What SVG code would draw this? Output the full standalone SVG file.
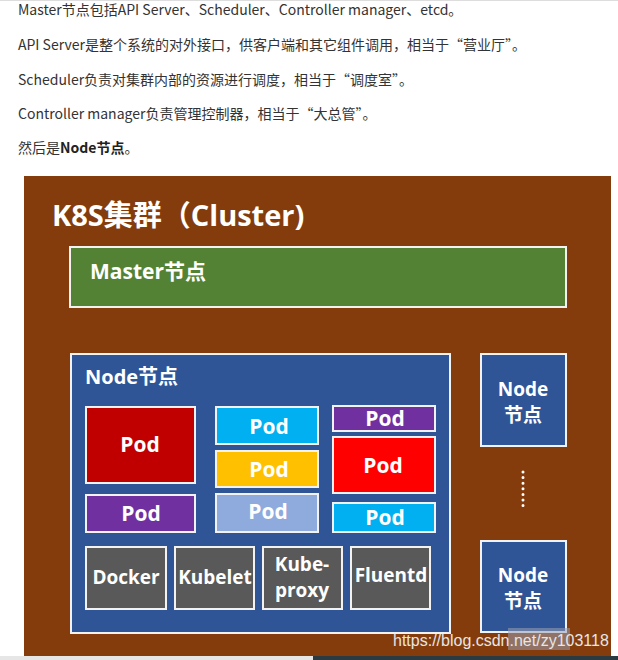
<svg xmlns="http://www.w3.org/2000/svg" width="618" height="660" viewBox="0 0 618 660">
<style>
.p{font-family:"Noto Sans CJK SC","Noto Sans",sans-serif;font-size:14px;fill:#333}
.b{font-family:"Open Sans","Noto Sans CJK SC",sans-serif;font-weight:bold;fill:#fff}
.box{stroke:#f2f2f2;stroke-width:2}
.pod{font-size:21px;text-anchor:middle}
.cmp{font-size:19px;text-anchor:middle}
.nd{font-size:19px;text-anchor:middle}
</style>
<rect width="618" height="660" fill="#fff"/>
<rect x="0" y="0" width="618" height="1" fill="#ddd"/>
<g id="text">
<text class="p" x="18" y="15">Master节点包括API Server、Scheduler、Controller manager、etcd。</text>
<text class="p" x="18" y="50">API Server是整个系统的对外接口，供客户端和其它组件调用，相当于“营业厅”。</text>
<text class="p" x="18" y="85">Scheduler负责对集群内部的资源进行调度，相当于“调度室”。</text>
<text class="p" x="18" y="119">Controller manager负责管理控制器，相当于“大总管”。</text>
<text class="p" x="18" y="153">然后是<tspan font-weight="bold" fill="#222">Node节点</tspan>。</text>
</g>
<g id="cluster">
<rect x="24" y="176" width="587" height="480" fill="#843C0C"/>
<text class="b" x="52" y="226" font-size="29">K8S集群（Cluster)</text>
</g>
<g id="master">
<rect class="box" x="70" y="247" width="496" height="60" fill="#548235" stroke="#fff2cc"/>
<text class="b" x="90" y="279" font-size="21">Master节点</text>
</g>
<g id="node-main">
<rect class="box" x="71" y="354" width="379" height="279" fill="#2F5597"/>
<text class="b" x="85" y="384" font-size="20">Node节点</text>
</g>
<g id="pods" class="b">
<g id="pod1"><rect class="box" x="86" y="407" width="109" height="76" fill="#C00000"/><text class="pod" x="140" y="452">Pod</text></g>
<g id="pod2"><rect class="box" x="86" y="495" width="109" height="37" fill="#7030A0"/><text class="pod" x="141" y="521">Pod</text></g>
<g id="pod3"><rect class="box" x="216" y="407" width="102" height="37" fill="#00B0F0"/><text class="pod" x="269" y="434">Pod</text></g>
<g id="pod4"><rect class="box" x="216" y="451" width="102" height="36" fill="#FFC000"/><text class="pod" x="269" y="477">Pod</text></g>
<g id="pod5"><rect class="box" x="216" y="494" width="102" height="38" fill="#8FAADC"/><text class="pod" x="268" y="519">Pod</text></g>
<g id="pod6"><rect class="box" x="333" y="406" width="102" height="25" fill="#7030A0"/><text class="pod" x="385" y="426">Pod</text></g>
<g id="pod7"><rect class="box" x="333" y="437" width="102" height="56" fill="#FF0000"/><text class="pod" x="383" y="473">Pod</text></g>
<g id="pod8"><rect class="box" x="333" y="503" width="102" height="29" fill="#00B0F0"/><text class="pod" x="385" y="525">Pod</text></g>
</g>
<g id="components" class="b">
<g id="docker"><rect class="box" x="86" y="547" width="80" height="62" fill="#595959"/><text class="cmp" x="126" y="584">Docker</text></g>
<g id="kubelet"><rect class="box" x="175" y="547" width="79" height="62" fill="#595959"/><text class="cmp" x="215" y="584">Kubelet</text></g>
<g id="kube-proxy"><rect class="box" x="263" y="547" width="79" height="62" fill="#595959"/><text class="cmp" x="302" y="571" font-size="18">Kube-</text><text class="cmp" x="302" y="597" font-size="18">proxy</text></g>
<g id="fluentd"><rect class="box" x="351" y="547" width="79" height="62" fill="#595959"/><text class="cmp" x="391" y="582">Fluentd</text></g>
</g>
<g id="node2" class="b">
<rect class="box" x="481" y="354" width="85" height="92" fill="#2F5597"/>
<text class="nd" x="523" y="396">Node</text>
<text class="nd" x="523" y="422">节点</text>
</g>
<g id="node3" class="b">
<rect class="box" x="481" y="541" width="85" height="91" fill="#2F5597"/>
<text class="nd" x="523" y="582">Node</text>
<text class="nd" x="523" y="608">节点</text>
</g>
<g id="connectors">
<line x1="523" y1="472" x2="523" y2="506" stroke="#fff" stroke-width="3" stroke-linecap="round" stroke-dasharray="0 5.6"/>
</g>
<g id="watermark">
<rect x="508" y="628" width="62" height="22" fill="#9aa0b0" opacity="0.55"/>
<text x="393" y="646" font-family="Liberation Sans,sans-serif" font-size="16" fill="#e6e6e6">https://blog.csdn.net/zy103118</text>
</g>
<rect x="0" y="656" width="313" height="4" fill="#e6e6e6"/>
<rect x="313" y="656" width="305" height="4" fill="#2b3a40"/>
</svg>
